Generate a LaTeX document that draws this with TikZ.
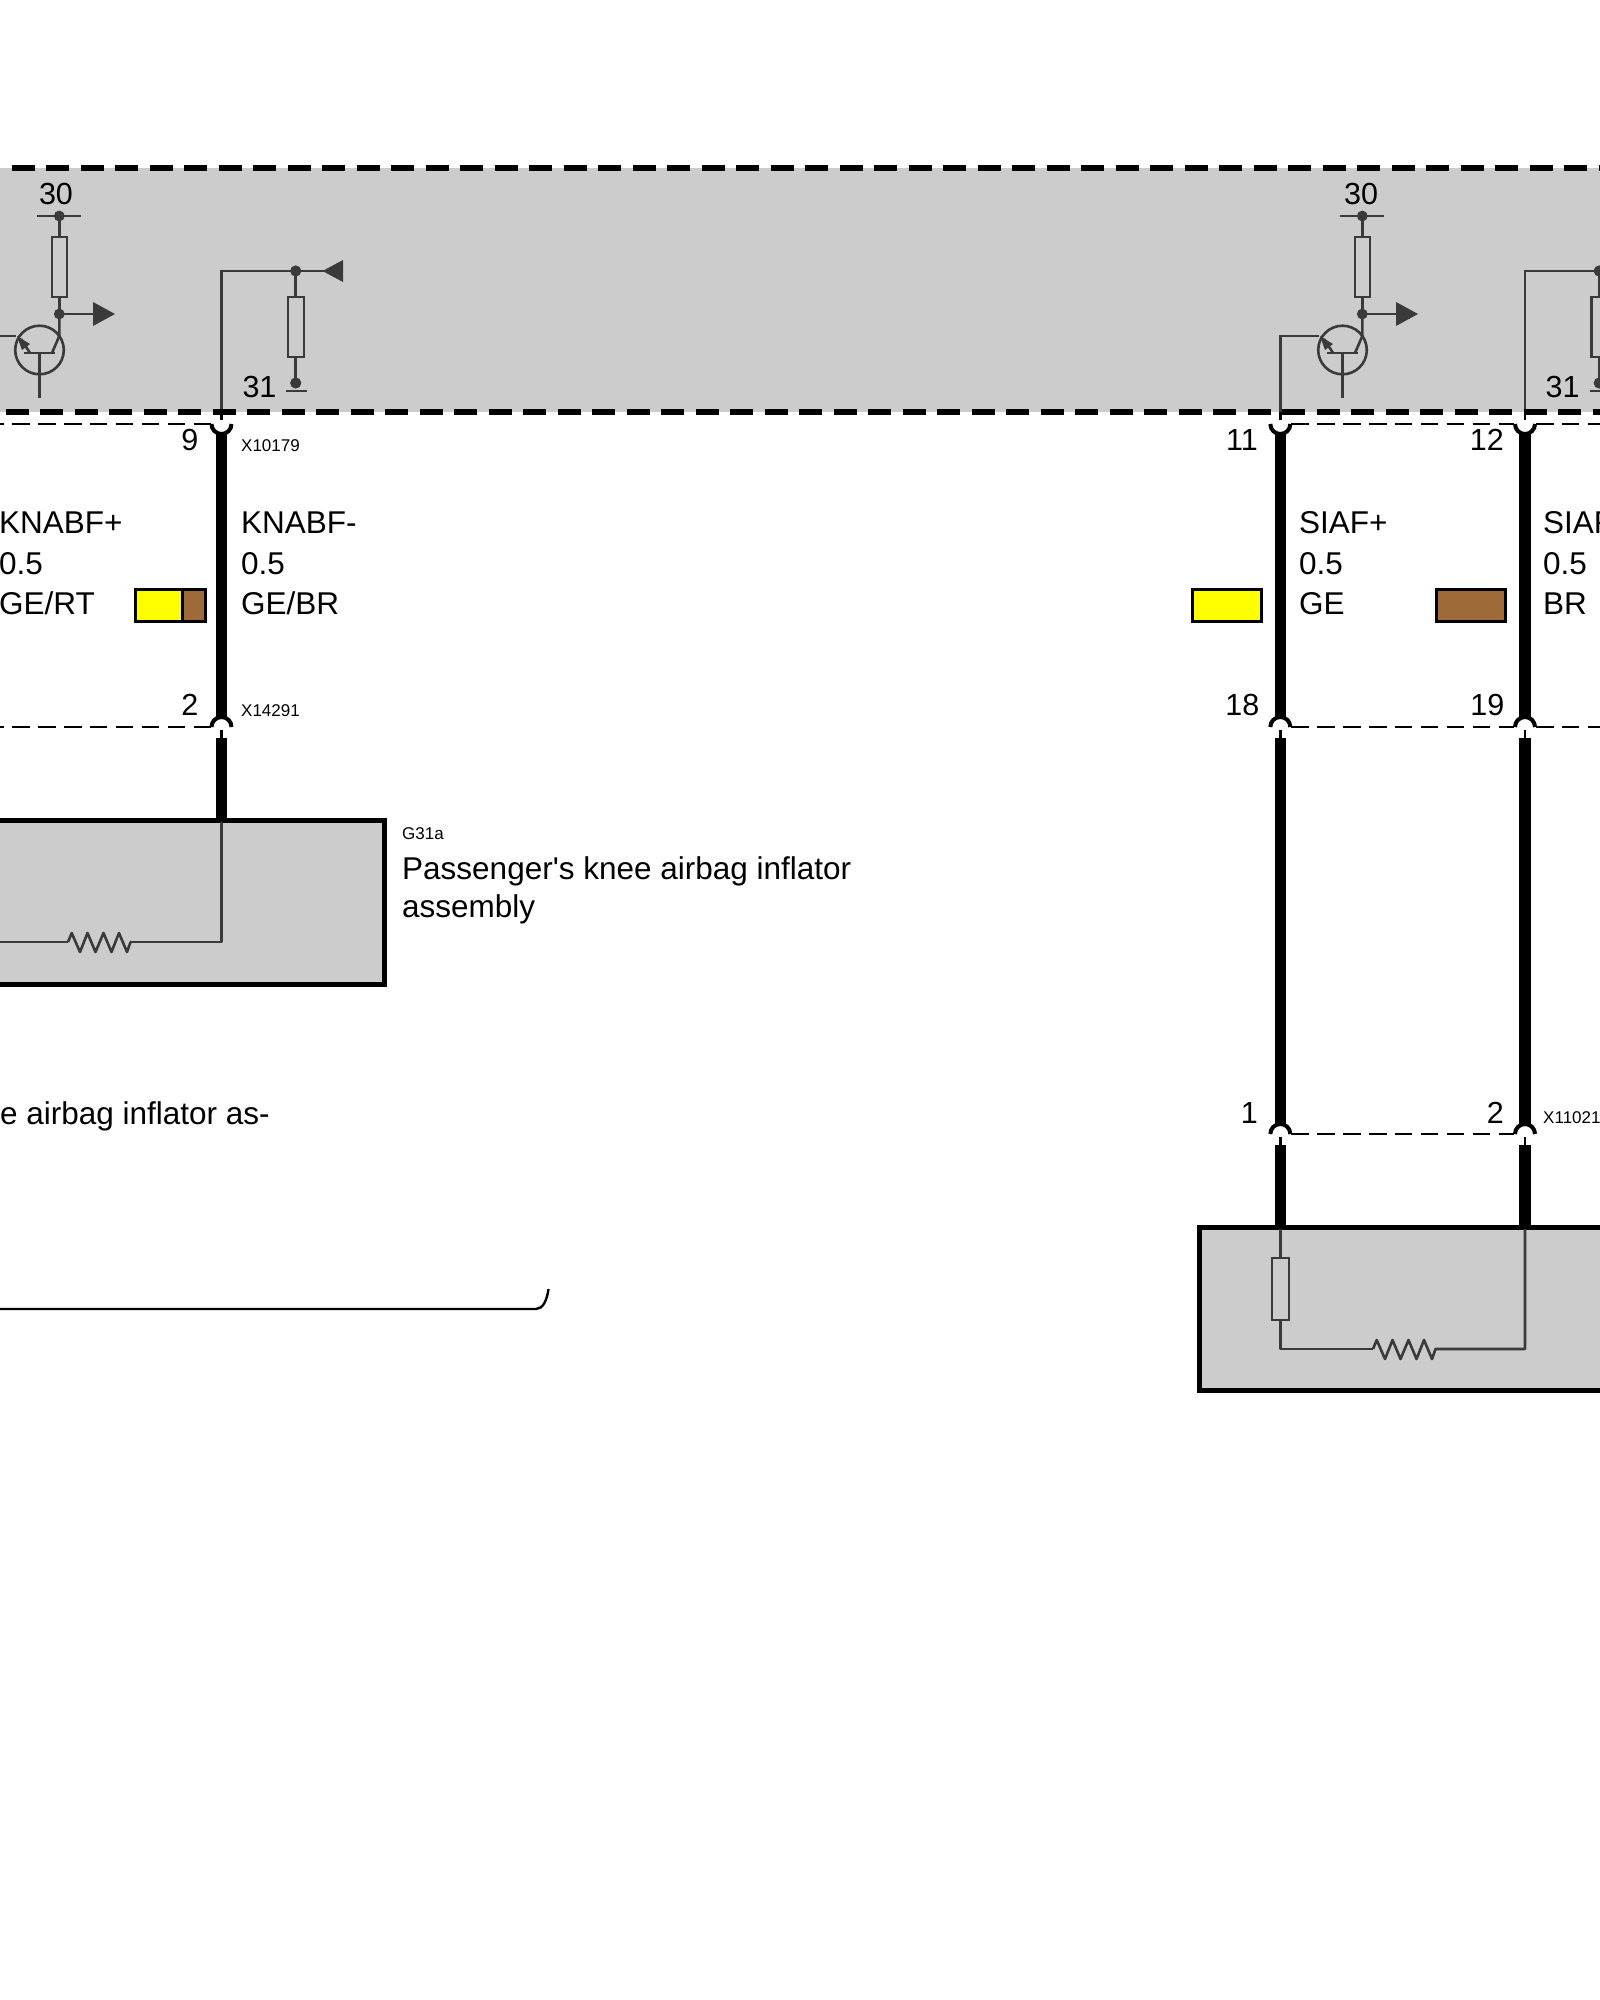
\documentclass[tikz,border=0pt]{standalone}
\usepackage{fontspec}
\setmainfont{Liberation Sans}
\definecolor{panelgrey}{HTML}{CCCCCC}
\definecolor{inkgrey}{HTML}{3A3A3A}
\definecolor{chipyellow}{HTML}{FFFF00}
\definecolor{chipbrown}{HTML}{9E6A38}
\tikzset{
  txt/.style={inner sep=0pt,anchor=base west,text=black,font=\fontsize{31.5}{38}\selectfont},
  num/.style={inner sep=0pt,anchor=base east,text=black,font=\fontsize{30.5}{36}\selectfont},
  numc/.style={inner sep=0pt,anchor=base,text=black,font=\fontsize{30.5}{36}\selectfont},
  tiny/.style={inner sep=0pt,anchor=base west,text=black,font=\fontsize{17}{20}\selectfont},
  band/.style={line width=6pt,black,dash pattern=on 23pt off 11.5pt},
  shieldline/.style={line width=2.4pt,black,dash pattern=on 17.5pt off 8.4pt},
  wire/.style={line width=11.5pt,black},
  cktline/.style={line width=2.6pt,inkgrey},
  stub/.style={line width=2.4pt,black},
  cup/.style={line width=4pt,black},
  resbox/.style={line width=2.6pt,draw=inkgrey,fill=panelgrey},
  dot/.style={fill=inkgrey,draw=none},
  headtri/.style={fill=inkgrey,draw=none},
  unit/.style={line width=5pt,draw=black,fill=panelgrey},
  chipbox/.style={line width=3pt,draw=black},
  pics/driver/.style={code={
    \draw[cktline] (37,216)--(81,216);
    \fill[dot] (59.3,216) circle (5.4);
    \draw[cktline] (59.3,216)--(59.3,314);
    \draw[resbox] (52,237) rectangle (67,297);
    \fill[dot] (59.3,314) circle (5.4);
    \draw[cktline] (59.3,314)--(95,314);
    \fill[headtri] (93,302)--(115,314)--(93,326)--cycle;
    \draw[cktline] (39.5,350) circle (24.3);
    \draw[cktline] (24,353)--(55,353);
    \draw[cktline] (39.5,353)--(39.5,398);
    \draw[cktline] (52,353)--(59.3,336)--(59.3,314);
    \draw[cktline] (30,353)--(21,339);
    \fill[headtri] (17,336)--(30,344)--(22,350)--cycle;
  }},
  pics/pullnet/.style={code={
    \draw[cktline] (221.5,412)--(221.5,271)--(325,271);
    \draw[cktline] (295.7,271)--(295.7,383);
    \draw[resbox] (288,297) rectangle (304,357);
    \fill[dot] (295.7,271) circle (5.6);
    \fill[dot] (295.7,383) circle (5.6);
    \draw[cktline] (286,391)--(307,391);
    \fill[headtri] (322.5,271)--(343,260)--(343,282)--cycle;
  }},
}
\newcommand{\zigzag}[2]{(#1,#2)--++(3.7,-9)--++(8.3,19)--++(7.5,-19)--++(8,19)--++(8,-19)--++(8,19)--++(7.5,-19)--++(8,19)--++(3.5,-10)}
\begin{document}
\begin{tikzpicture}[x=1pt,y=-1pt]
\useasboundingbox (0,0) rectangle (1600,2000);
\clip (0,0) rectangle (1600,2000);
\fill[white] (0,0) rectangle (1600,2000);
% control unit panel
\fill[panelgrey] (0,168) rectangle (1600,412);
% circuits in the panel
\pic {driver};
\begin{scope}[xshift=1303pt]
  \pic {driver};
\end{scope}
\pic {pullnet};
\begin{scope}[xshift=1303.5pt]
  \pic {pullnet};
\end{scope}
\draw[cktline] (0,336)--(16,336);
\draw[cktline] (1280.3,412)--(1280.3,336)--(1319,336);
\draw[band,dash phase=23pt] (0,168)--(1600,168);
\draw[band,dash phase=29pt] (0,412)--(1600,412);
% named connection points
\coordinate (a1) at (221.5,424); \coordinate (a2) at (221.5,727);
\coordinate (b1) at (1280.3,424); \coordinate (b2) at (1280.3,727); \coordinate (b3) at (1280.3,1134);
\coordinate (c1) at (1525,424); \coordinate (c2) at (1525,727); \coordinate (c3) at (1525,1134);
\coordinate (leftA) at (0,424); \coordinate (leftB) at (0,727);
\coordinate (rightA) at (1600,424); \coordinate (rightB) at (1600,727);
% shield dashes
\draw[shieldline] ([xshift=-10.5pt]a1)--(leftA);
\draw[shieldline] ([xshift=-10.5pt]a2)--(leftB);
\draw[shieldline] ([xshift=11pt]b1)--([xshift=-11pt]c1);
\draw[shieldline] ([xshift=11pt]c1)--(rightA);
\draw[shieldline] ([xshift=11pt]b2)--([xshift=-11pt]c2);
\draw[shieldline] ([xshift=11pt]c2)--(rightB);
\draw[shieldline] ([xshift=11pt]b3)--([xshift=-11pt]c3);
% top connectors (cups)
\foreach \c in {a1,b1,c1}{
  \draw[stub] ([yshift=12pt]\c)--([yshift=4pt]\c);
  \draw[cup] ([xshift=-10pt]\c) arc[start angle=180,end angle=360,radius=10pt];
}
% lower connectors (caps)
\foreach \c in {a2,b2,c2,b3,c3}{
  \draw[stub] ([yshift=-3pt]\c)--([yshift=-11pt]\c);
  \draw[cup] ([xshift=-10pt]\c) arc[start angle=180,end angle=0,radius=10pt];
}
% unit boxes
\draw[unit] (-10,820.5) rectangle (384.5,984);
\draw[unit] (1199.5,1227.5) rectangle (1620,1390.5);
% wires
\draw[wire] ([yshift=-8pt]a1)--([yshift=9pt]a2);
\draw[wire] ([yshift=-8pt]b1)--([yshift=9pt]b2);
\draw[wire] ([yshift=-8pt]c1)--([yshift=9pt]c2);
\draw[wire] ([yshift=-11pt]a2)--(221.5,821);
\draw[wire] ([yshift=-11pt]b2)--([yshift=9pt]b3);
\draw[wire] ([yshift=-11pt]c2)--([yshift=9pt]c3);
\draw[wire] ([yshift=-11pt]b3)--(1280.3,1228);
\draw[wire] ([yshift=-11pt]c3)--(1525,1228);
% internals of the inflator units
\draw[cktline,line join=round] (221.5,822)--(221.5,942)--(130,942);
\draw[cktline,line join=round] (0,942)--(68,942);
\draw[cktline,line join=round] \zigzag{68}{942}--(130,942);
\draw[cktline,line join=round] (1280.3,1229)--(1280.3,1349)--(1373,1349);
\draw[cktline,line join=round] \zigzag{1373}{1349}--(1525,1349)--(1525,1229);
\draw[resbox] (1272,1258) rectangle (1289,1320);
% wire colour chips
\fill[chipyellow] (135,588) rectangle (182,622);
\fill[chipbrown] (182,588) rectangle (206,622);
\draw[chipbox] (135,589) rectangle (205,621);
\draw[chipbox] (182,589)--(182,621);
\draw[chipbox,fill=chipyellow] (1192,589) rectangle (1261,621);
\draw[chipbox,fill=chipbrown] (1436,589) rectangle (1505,621);
% bracket
\coordinate (brL) at (0,1309);
\coordinate (brR) at (536,1309);
\coordinate (brT) at (548.5,1289);
\draw[line width=2.4pt,black] (brL)--(brR) .. controls (543,1309) and (547,1300) .. (brT);
% texts
\node[numc] (n30a) at (56,204) {30};
\node[numc] (n30b) at (1361,204) {30};
\node[numc] (n31a) at (259.5,397) {31};
\node[numc] (n31b) at (1562.5,397) {31};
\node[num] (p9) at (198.5,450) {9};
\node[num] (p2) at (198.5,715) {2};
\node[num] (p11) at (1258,450) {11};
\node[num] (p12) at (1504,450) {12};
\node[num] (p18) at (1259.5,715) {18};
\node[num] (p19) at (1504.5,715) {19};
\node[num] (p1) at (1258,1123) {1};
\node[num] (p2b) at (1504,1123) {2};
\node[tiny] (x1) at (241,451) {X10179};
\node[tiny] (x2) at (241,716) {X14291};
\node[tiny] (x3) at (1543,1123) {X11021};
\node[tiny] (g) at (402,839) {G31a};
\node[txt] (t1) at (-1,533) {KNABF+};
\node[txt] (t2) at (-1,574) {0.5};
\node[txt] (t3) at (-1,614) {GE/RT};
\node[txt] (t4) at (241,533) {KNABF-};
\node[txt] (t5) at (241,574) {0.5};
\node[txt] (t6) at (241,614) {GE/BR};
\node[txt] (t7) at (1299,533) {SIAF+};
\node[txt] (t8) at (1299,574) {0.5};
\node[txt] (t9) at (1299,614) {GE};
\node[txt] (t10) at (1543,533) {SIAF-};
\node[txt] (t11) at (1543,574) {0.5};
\node[txt] (t12) at (1543,614) {BR};
\node[txt] (d1) at (402,879) {Passenger\textquotesingle s knee airbag inflator};
\node[txt] (d2) at (402,917) {assembly};
\node[txt,anchor=base east] (d3) at (270,1124) {e airbag inflator as-};
\end{tikzpicture}
\end{document}
